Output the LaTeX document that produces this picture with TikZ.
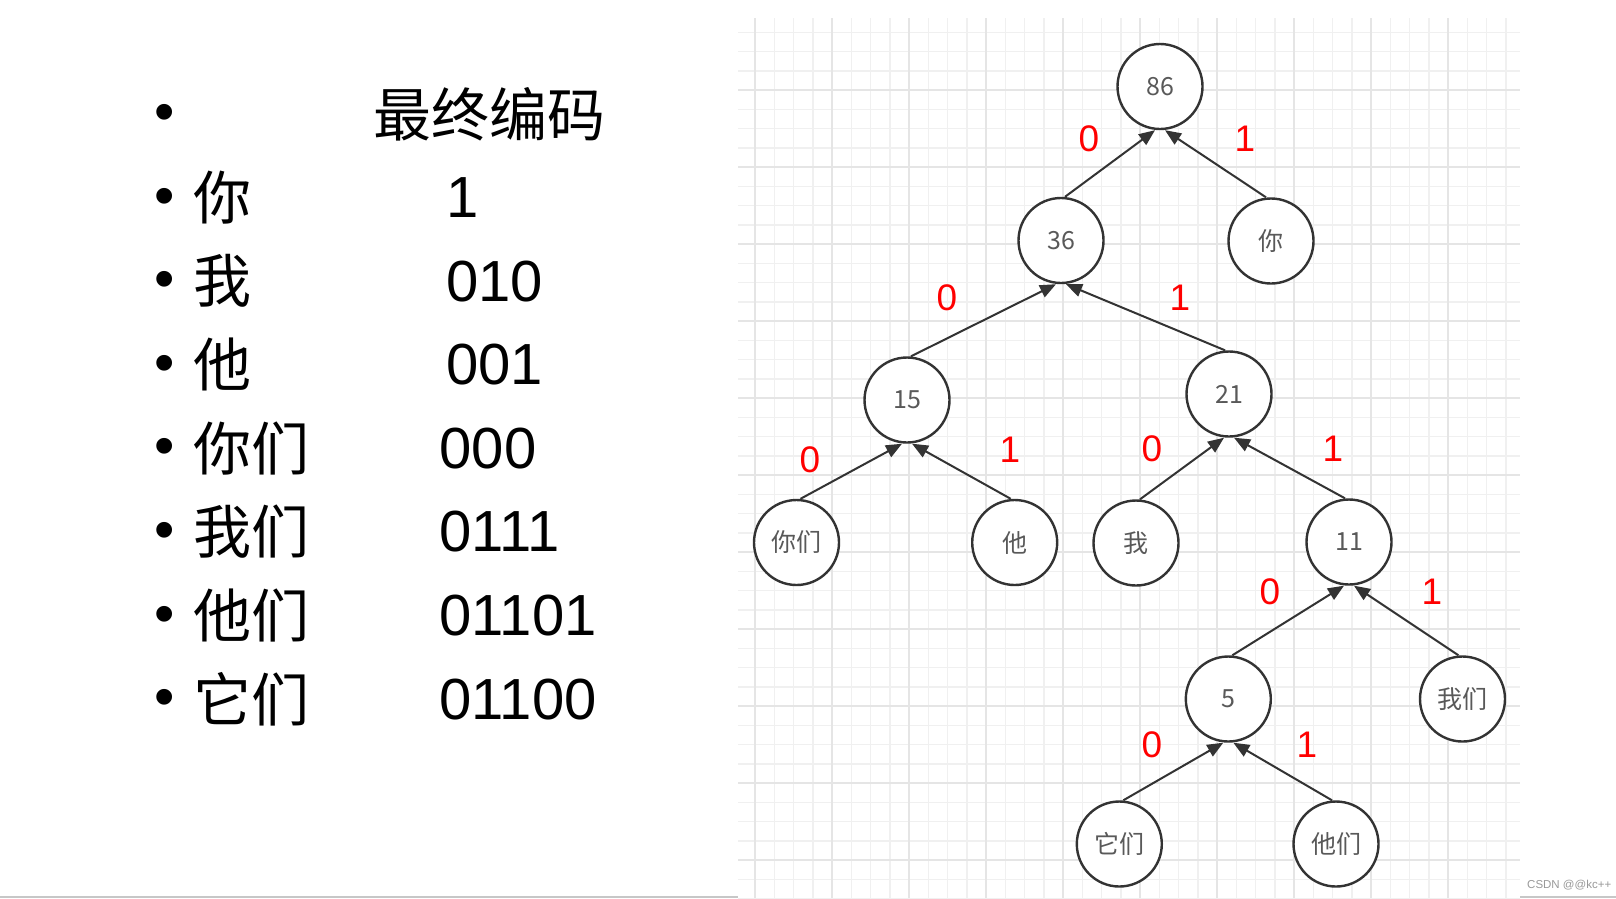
\documentclass[tikz,border=0pt]{standalone}
\usepackage{fontspec}
\setmainfont{Liberation Sans}
\newfontfamily\cjk{Noto Sans CJK SC}
\usetikzlibrary{arrows.meta}
\definecolor{inkgray}{HTML}{333333}
\definecolor{gridminor}{HTML}{F0F0F0}
\definecolor{gridmajor}{HTML}{E5E5E5}

\begin{document}
\begin{tikzpicture}[x=1pt, y=-1pt,
  huff/.style={draw=inkgray, line width=2.4pt, circle, fill=white, minimum size=85pt, inner sep=0pt, text=black!65, font=\cjk\fontsize{25}{27}\selectfont},
  bit/.style={text=red, inner sep=0pt, font=\fontsize{37}{40}\selectfont},
  link/.style={draw=inkgray, line width=2pt, -{Triangle[length=16pt, width=13pt]}},
  row/.style={anchor=west, inner sep=0pt, font=\cjk\fontsize{58}{62}\selectfont},
  code/.style={anchor=west, inner sep=0pt, font=\fontsize{58}{62}\selectfont},
  dot/.style={inner sep=0pt, font=\fontsize{58}{62}\selectfont}]
  \useasboundingbox (0,0) rectangle (1616,898);
  \fill[white] (0,0) rectangle (1616,898);

  % grid paper
  \begin{scope}
    \clip (738,18) rectangle (1520,898);
    \foreach \gx in {755,774.25,...,1521} \draw[gridminor, line width=1.5pt] (\gx,18) -- (\gx,898);
    \foreach \gy in {32.25,51.5,...,899} \draw[gridminor, line width=1.5pt] (738,\gy) -- (1520,\gy);
    \foreach \gx in {755,832,...,1521} \draw[gridmajor, line width=1.5pt] (\gx,18) -- (\gx,898);
    \foreach \gy in {90,167,...,899} \draw[gridmajor, line width=1.5pt] (738,\gy) -- (1520,\gy);
  \end{scope}
  \fill[black!22] (0,896) rectangle (738,898);
  \fill[black!22] (1520,896) rectangle (1616,898);

  % code table
  \node[dot] (d0) at (165,118) {•};
  \node[row] (hdr) at (373,114) {最终编码};
  \node[dot] (d1) at (165,201.6) {•};
  \node[row] (w1) at (193,197.6) {你};
  \node[code] (c1) at (446,197.6) {1};
  \node[dot] (d2) at (165,285.2) {•};
  \node[row] (w2) at (193,281.2) {我};
  \node[code] (c2) at (446,281.2) {010};
  \node[dot] (d3) at (165,368.8) {•};
  \node[row] (w3) at (193,364.8) {他};
  \node[code] (c3) at (446,364.8) {001};
  \node[dot] (d4) at (165,452.4) {•};
  \node[row] (w4) at (193,448.4) {你们};
  \node[code] (c4) at (439.5,448.4) {000};
  \node[dot] (d5) at (165,536) {•};
  \node[row] (w5) at (193,532) {我们};
  \node[code] (c5) at (439.5,532) {0111};
  \node[dot] (d6) at (165,619.6) {•};
  \node[row] (w6) at (193,615.6) {他们};
  \node[code] (c6) at (439.5,615.6) {01101};
  \node[dot] (d7) at (165,703.2) {•};
  \node[row] (w7) at (193,699.2) {它们};
  \node[code] (c7) at (439.5,699.2) {01100};

  % huffman tree
  \node[huff] (n86) at (1160,86.5) {86};
  \node[huff] (n36) at (1061,240.5) {36};
  \node[huff] (ni) at (1271,241) {你};
  \node[huff] (n15) at (907,400) {15};
  \node[huff] (n21) at (1229,394) {21};
  \node[huff] (nimen) at (796.5,542.5) {你们};
  \node[huff] (nta) at (1014.7,542.5) {他};
  \node[huff] (nwo) at (1136,543) {我};
  \node[huff] (n11) at (1349,542) {11};
  \node[huff] (n5) at (1228.3,699) {5};
  \node[huff] (nwomen) at (1462.5,699) {我们};
  \node[huff] (ntamen) at (1119.3,844) {它们};
  \node[huff] (nhemen) at (1336,844) {他们};

  \draw[link] ([xshift=4pt]n36.north) -- ([xshift=-5pt]n86.south);
  \draw[link] ([xshift=-5pt]ni.north) -- ([xshift=5pt]n86.south);
  \draw[link] ([xshift=4pt]n15.north) -- ([xshift=-5pt]n36.south);
  \draw[link] ([xshift=-4pt]n21.north) -- ([xshift=5pt]n36.south);
  \draw[link] ([xshift=4pt]nimen.north) -- ([xshift=-5pt]n15.south);
  \draw[link] ([xshift=-4pt]nta.north) -- ([xshift=5pt]n15.south);
  \draw[link] ([xshift=4pt]nwo.north) -- ([xshift=-5pt]n21.south);
  \draw[link] ([xshift=-4pt]n11.north) -- ([xshift=5pt]n21.south);
  \draw[link] ([xshift=4pt]n5.north) -- ([xshift=-5pt]n11.south);
  \draw[link] ([xshift=-4pt]nwomen.north) -- ([xshift=5pt]n11.south);
  \draw[link] ([xshift=4pt]ntamen.north) -- ([xshift=-5pt]n5.south);
  \draw[link] ([xshift=-4pt]nhemen.north) -- ([xshift=5pt]n5.south);

  \node[bit] (b86l) at (1089,139) {0};
  \node[bit] (b86r) at (1245,139) {1};
  \node[bit] (b36l) at (947,298) {0};
  \node[bit] (b36r) at (1180,298) {1};
  \node[bit] (b15l) at (810,460) {0};
  \node[bit] (b15r) at (1010,450) {1};
  \node[bit] (b21l) at (1152,449) {0};
  \node[bit] (b21r) at (1333,449) {1};
  \node[bit] (b11l) at (1270,592) {0};
  \node[bit] (b11r) at (1432,592) {1};
  \node[bit] (b5l) at (1152,745) {0};
  \node[bit] (b5r) at (1307,745) {1};

  \node[anchor=west, inner sep=0pt, text=black!40, font=\fontsize{11.5}{12}\selectfont] (mark) at (1527,885) {CSDN @@kc++};
\end{tikzpicture}
\end{document}
